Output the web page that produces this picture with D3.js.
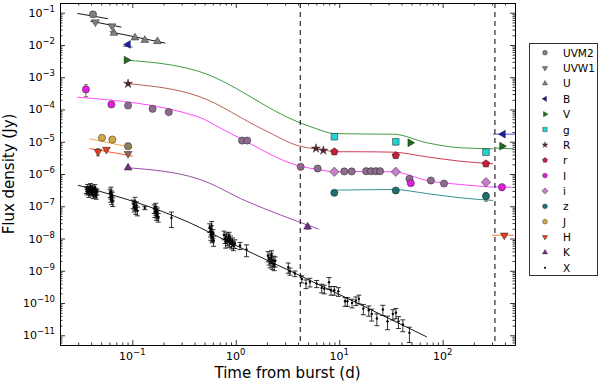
<!DOCTYPE html>
<html>
<head>
<meta charset="utf-8">
<script src="https://d3js.org/d3.v7.min.js"></script>
<style>
body { margin: 0; background: #fff; }
svg { font-family: "DejaVu Sans", sans-serif; }
</style>
</head>
<body>
<svg id="chart" width="600" height="382"></svg>
<script>
// time in days, flux in Jy, e = fractional error
var uvm2T = [0.0417], uvm2F = [0.0886], uvm2E = [0.08];
var uvw1T = [0.044, 0.0636], uvw1F = [0.0511, 0.0384], uvw1E = [0.1, 0.1];
var uT = [0.0665, 0.106, 0.132, 0.175], uF = [0.0233, 0.0168, 0.0141, 0.0129], uE = [0.1, 0.08, 0.08, 0.08];
var bT = [0.091, 383], bF = [0.0104, 1.72e-5], bE = [0.05, 0.1];
var vT = [0.0877, 48.5, 374], vF = [3.39e-3, 9.3e-6, 7.3e-6], vE = [0.08, 0.08, 0.1];
var gT = [8.97, 35.2, 262], gF = [1.43e-5, 9.97e-6, 4.74e-6], gE = [0.1, 0.2, 0.15];
var rbT = [0.091, 5.96, 7.02], rbF = [6.28e-4, 6.18e-6, 5.36e-6], rbE = [0.08, 0.08, 0.08];
var rT = [8.97, 35.2, 262], rF = [4.89e-6, 3.75e-6, 2.07e-6], rE = [0.06, 0.06, 0.08];
var ibT = [0.0356, 0.0628, 49.2, 374], ibF = [4.18e-4, 1.43e-4, 5.19e-7, 3.9e-7], ibE = [0.4, 0.1, 0.15, 0.2];
var iT = [8.97, 35.2, 262], iF = [1.17e-6, 1.17e-6, 5.57e-7], iE = [0.08, 0.08, 0.1];
var zT = [8.97, 35.2, 262], zF = [2.61e-7, 3.08e-7, 2.05e-7], zE = [0.1, 0.1, 0.3];
var jT = [0.0509, 0.0641], jF = [1.33e-5, 1.17e-5], jE = [0.1, 0.1];
var hT = [0.0466, 0.0561, 394], hF = [4.89e-6, 5.75e-6, 1.26e-8], hE = [0.25, 0.1, 0.1];
var kT = [0.091, 4.95], kF = [1.56e-6, 2.3e-8], kE = [0.1, 0.15];
// other-instrument optical points on the I curve, and nir points at 0.09 d
var ioT = [0.091, 0.157, 0.225, 1.15, 1.29, 4.24, 6.19, 11.2, 13.2, 18.2, 20.3, 22.6, 24.8, 47.7, 76.9, 103];
var ioF = [1.33e-4, 1.05e-4, 8.3e-5, 1.09e-5, 1.09e-5, 1.67e-6, 1.48e-6, 1.2e-6, 1.2e-6, 1.22e-6, 1.22e-6, 1.22e-6, 1.22e-6, 7.1e-7, 6.28e-7, 5.07e-7];
var joT = [0.091], joF = [7.28e-6];
var hoT = [0.091], hoF = [4.24e-6];

var xrayT = [
  0.0360,0.0365,0.0370,0.0375,0.0380,0.0385,0.0390,0.0395,0.0400,0.0405,0.0410,0.0415,0.0420,0.0425,0.0430,0.0435,0.0440,0.0445,0.0450,0.0455,
  0.0610,0.0618,0.0622,0.0625,0.0632,0.0640,0.0647,
  0.102,0.104,0.105,0.106,0.108,0.110,0.112,
  0.132,
  0.163,0.166,0.168,0.169,0.172,0.174,0.175,0.178,
  0.239,
  0.56,0.57,0.575,0.58,0.585,0.59,0.595,0.60,0.61,
  0.77,0.79,0.80,0.81,0.83,0.85,0.86,0.87,0.89,0.91,0.93,0.95,0.98,
  1.10,1.27,
  2.05,2.10,2.15,2.20,2.22,2.25,2.30,2.35,2.40,
  3.22,3.34,3.73,4.34,4.77,5.21,6.05,6.77,7.18,7.97,8.33,8.97,9.81,
  11.4,12.0,13.3,14.5,15.5,17.1,19.3,20.6,23.1,26.4,29.3,33.0,35.3,37.4,41.2,47.7];
var xrayF = [
  3.3e-7,2.8e-7,3.8e-7,3.1e-7,2.5e-7,3.5e-7,2.9e-7,4.2e-7,3.2e-7,2.6e-7,3.6e-7,2.9e-7,2.3e-7,3.3e-7,2.7e-7,3.9e-7,2.5e-7,3.0e-7,2.2e-7,2.8e-7,
  2.6e-7,1.9e-7,2.9e-7,2.3e-7,1.6e-7,2.1e-7,1.4e-7,
  1.2e-7,9.5e-8,1.1e-7,1.4e-7,8.0e-8,1.05e-7,7.2e-8,
  8.9e-8,
  8.5e-8,6.4e-8,9.5e-8,7.5e-8,5.2e-8,5.8e-8,6.8e-8,4.6e-8,
  4.4e-8,
  2.2e-8,1.6e-8,1.25e-8,1.9e-8,2.5e-8,1.05e-8,1.15e-8,1.45e-8,8.8e-9,
  1.3e-8,1.0e-8,7.2e-9,1.15e-8,8.5e-9,1.05e-8,1.2e-8,7.6e-9,9.2e-9,6.8e-9,8.0e-9,6.0e-9,7.0e-9,
  6.05e-9,4.55e-9,
  2.9e-9,2.3e-9,1.9e-9,2.6e-9,3.1e-9,1.7e-9,2.1e-9,1.55e-9,2.0e-9,
  1.29e-9,9.7e-10,8.2e-10,5.6e-10,4.0e-10,4.5e-10,4.0e-10,2.95e-10,2.75e-10,4.4e-10,2.5e-10,2.5e-10,2.3e-10,
  1.13e-10,1.13e-10,1.01e-10,1.19e-10,1.35e-10,6.7e-11,6.0e-11,4.6e-11,3.3e-11,6.3e-11,2.7e-11,4.6e-11,5.0e-11,2.7e-11,2.15e-11,1.19e-11];
var xrayE = [
  0.25,0.2,0.25,0.2,0.25,0.2,0.25,0.2,0.25,0.2,0.25,0.2,0.25,0.2,0.25,0.2,0.25,0.2,0.25,0.2,
  0.3,0.3,0.35,0.3,0.3,0.3,0.3,
  0.3,0.3,0.3,0.35,0.3,0.3,0.3,
  0.12,
  0.3,0.3,0.3,0.3,0.3,0.3,0.3,0.3,
  0.5,
  0.3,0.3,0.3,0.3,0.35,0.3,0.3,0.3,0.35,
  0.3,0.3,0.3,0.3,0.3,0.3,0.3,0.3,0.3,0.3,0.3,0.3,0.3,
  0.25,0.4,
  0.35,0.35,0.35,0.35,0.35,0.35,0.35,0.35,0.35,
  0.35,0.25,0.2,0.25,0.3,0.3,0.25,0.3,0.3,0.4,0.3,0.3,0.3,
  0.3,0.3,0.3,0.3,0.3,0.35,0.35,0.4,0.4,0.35,0.45,0.35,0.35,0.4,0.4,0.5];

// model / fit curves
var uvm2LineT = [0.0294, 0.0582], uvm2LineF = [0.0951, 0.0652];
var uvw1LineT = [0.0393, 0.0784], uvw1LineF = [0.0548, 0.0357];
var uLineT = [0.0604, 0.209], uLineF = [0.0258, 0.0114];
var bLineT = [0.0813, 0.101], bLineF = [9.2e-3, 8.6e-3];
var bLateT = [306, 500], bLateF = [1.72e-5, 1.72e-5];
var vLineT = [0.0877, 0.432, 4.17, 6.05, 8.77, 15.9, 33.4, 70.3, 148, 308];
var vLineF = [3.39e-3, 1.55e-3, 3.87e-5, 2.52e-5, 1.8e-5, 1.74e-5, 1.71e-5, 9.3e-6, 6.5e-6, 6.05e-6];
var vLateT = [325, 480], vLateF = [6.4e-6, 6.0e-6];
var rbLineT = [0.091, 0.449, 1.84, 4.17, 5.96, 8.97];
var rbLineF = [6.28e-4, 2.48e-4, 2.4e-5, 7.28e-6, 5.96e-6, 4.89e-6];
var rLineT = [8.97, 15.9, 33.4, 70.3, 148, 308];
var rLineF = [4.89e-6, 4.89e-6, 4.74e-6, 3.41e-6, 2.49e-6, 2.07e-6];
var ibLineT = [0.0294, 0.432, 0.702, 1.18, 4.17, 6.24, 8.97, 15.9, 33.4, 70.3, 148, 308];
var ibLineF = [2.41e-4, 5.94e-5, 2.71e-5, 1.13e-5, 1.75e-6, 1.38e-6, 1.17e-6, 1.2e-6, 1.17e-6, 6.28e-7, 4.72e-7, 3.9e-7];
var ibLateT = [308, 465], ibLateF = [4.0e-7, 3.9e-7];
var zLineT = [8.97, 33.4, 70.3, 148, 308], zLineF = [3.15e-7, 3.3e-7, 2.48e-7, 1.83e-7, 1.51e-7];
var jLineT = [0.0387, 0.1016], jLineF = [1.24e-5, 6.5e-6];
var hLineT = [0.0387, 0.1016], hLineF = [6.18e-6, 3.56e-6];
var hLateT = [300, 490], hLateF = [1.26e-8, 1.26e-8];
var kLineT = [0.091, 0.432, 1.27, 5.83, 6.3], kLineF = [1.56e-6, 7.1e-7, 1.43e-7, 2.14e-8, 1.95e-8];
var xLineT = [0.0298, 0.36, 0.877, 4.17, 70.3], xLineF = [4.5e-7, 3.06e-8, 7.5e-9, 7.1e-10, 8.9e-12];

var vlines = [4.2, 320];
var xTicks = [0.1, 1, 10, 100], xTickExp = ["-1", "0", "1", "2"];
var yTicks = [1e-11,1e-10,1e-9,1e-8,1e-7,1e-6,1e-5,1e-4,1e-3,1e-2,1e-1];
var yTickExp = ["-11","-10","-9","-8","-7","-6","-5","-4","-3","-2","-1"];

var svg = d3.select("#chart");
var L = 60, R = 515, T = 3, B = 345;
var x = d3.scaleLog().domain([0.02, 500]).range([L, R]);
var y = d3.scaleLog().domain([5e-12, 0.2]).range([B, T]);

svg.append("defs").append("clipPath").attr("id", "clip")
  .append("rect").attr("x", L).attr("y", T).attr("width", R - L).attr("height", B - T);

function zip(ts, fs, es) { return ts.map(function(t, i) { return {t: t, f: fs[i], e: es ? es[i] : 0}; }); }

function markerPath(shape, r) {
  function poly(n, rot, rr) {
    var a = [];
    for (var k = 0; k < n; k++) { var ang = rot + 2 * Math.PI * k / n; a.push([rr * Math.sin(ang), -rr * Math.cos(ang)]); }
    return "M" + a.join("L") + "Z";
  }
  if (shape == "circle") return d3.symbol(d3.symbolCircle, Math.PI * r * r)();
  if (shape == "tu") return poly(3, 0, r * 1.25);
  if (shape == "td") return poly(3, Math.PI, r * 1.25);
  if (shape == "tl") return poly(3, -Math.PI / 2, r * 1.25);
  if (shape == "tr") return poly(3, Math.PI / 2, r * 1.25);
  if (shape == "square") return poly(4, Math.PI / 4, r * 1.3);
  if (shape == "diamond") return poly(4, 0, r * 1.3);
  if (shape == "pent") return poly(5, 0, r * 1.1);
  if (shape == "star") {
    var a = [];
    for (var k = 0; k < 10; k++) { var rr = k % 2 ? r * 0.45 : r * 1.3, ang = Math.PI * k / 5; a.push([rr * Math.sin(ang), -rr * Math.cos(ang)]); }
    return "M" + a.join("L") + "Z";
  }
  return d3.symbol(d3.symbolCircle, Math.PI * r * r)();
}

var series = [
  {name: "UVM2", shape: "circle", fill: "#808080", pts: zip(uvm2T, uvm2F, uvm2E)},
  {name: "UVW1", shape: "td", fill: "#808080", pts: zip(uvw1T, uvw1F, uvw1E)},
  {name: "U", shape: "tu", fill: "#808080", pts: zip(uT, uF, uE)},
  {name: "B", shape: "tl", fill: "#1c1ca8", pts: zip(bT, bF, bE)},
  {name: "V", shape: "tr", fill: "#1b6e1b", pts: zip(vT, vF, vE)},
  {name: "g", shape: "square", fill: "#22d3d3", pts: zip(gT, gF, gE)},
  {name: "R", shape: "star", fill: "#5c1f33", pts: zip(rbT, rbF, rbE)},
  {name: "r", shape: "pent", fill: "#c41e3a", pts: zip(rT, rF, rE)},
  {name: "I", shape: "circle", fill: "#e020e0", pts: zip(ibT, ibF, ibE)},
  {name: "i", shape: "diamond", fill: "#c87dc8", pts: zip(iT, iF, iE)},
  {name: "z", shape: "circle", fill: "#1c7070", pts: zip(zT, zF, zE)},
  {name: "J", shape: "circle", fill: "#d4a74a", pts: zip(jT, jF, jE)},
  {name: "H", shape: "td", fill: "#e0401c", pts: zip(hT, hF, hE)},
  {name: "K", shape: "tu", fill: "#7b2a8c", pts: zip(kT, kF, kE)},
  {name: "X", shape: "dot", fill: "#000", pts: zip(xrayT, xrayF, xrayE)}
];
var extras = [
  {shape: "circle", fill: "#8d6c8d", pts: zip(ioT, ioF, ioT.map(function() { return 0.08; }))},
  {shape: "circle", fill: "#8e8060", pts: zip(joT, joF)},
  {shape: "td", fill: "#8e6658", pts: zip(hoT, hoF)}
];

var models = [
  {t: uvm2LineT, f: uvm2LineF, c: "#000"}, {t: uvw1LineT, f: uvw1LineF, c: "#000"}, {t: uLineT, f: uLineF, c: "#000"},
  {t: bLineT, f: bLineF, c: "#3a3ad0"}, {t: bLateT, f: bLateF, c: "#3a3ad0"},
  {t: vLineT, f: vLineF, c: "#2e8b2e"}, {t: vLateT, f: vLateF, c: "#2e8b2e"},
  {t: rbLineT, f: rbLineF, c: "#b0503e"}, {t: rLineT, f: rLineF, c: "#cc2244"},
  {t: ibLineT, f: ibLineF, c: "#ff33ff"}, {t: ibLateT, f: ibLateF, c: "#ff33ff"},
  {t: zLineT, f: zLineF, c: "#1f8585"},
  {t: jLineT, f: jLineF, c: "#f0a030"}, {t: hLineT, f: hLineF, c: "#ff4a1a"}, {t: hLateT, f: hLateF, c: "#ff6a2a"},
  {t: kLineT, f: kLineF, c: "#8e3a9e"}, {t: xLineT, f: xLineF, c: "#000"}
];

var plot = svg.append("g").attr("clip-path", "url(#clip)");
var line = d3.line().x(function(d) { return x(d[0]); }).y(function(d) { return y(d[1]); }).curve(d3.curveMonotoneX);
models.forEach(function(m) {
  plot.append("path").datum(m.t.map(function(t, i) { return [t, m.f[i]]; }))
    .attr("d", line).attr("fill", "none").attr("stroke", m.c).attr("stroke-width", 0.9);
});

plot.selectAll(".vl").data(vlines).enter().append("line")
  .attr("x1", function(d) { return x(d); }).attr("x2", function(d) { return x(d); })
  .attr("y1", T).attr("y2", B).attr("stroke", "#000").attr("stroke-width", 1).attr("stroke-dasharray", "5,4");

function drawPts(s) {
  var col = s.shape == "dot" ? "#000" : "#555";
  var g = plot.append("g");
  s.pts.filter(function(d) { return d.e > 0; }).forEach(function(d) {
    var y1 = y(d.f * (1 + d.e)), y2 = y(d.f * (1 - d.e)), cx = x(d.t), cw = s.shape == "dot" ? 2.5 : 2;
    g.append("line").attr("x1", cx).attr("x2", cx).attr("y1", y1).attr("y2", y2).attr("stroke", col).attr("stroke-width", 0.8);
    g.append("line").attr("x1", cx - cw).attr("x2", cx + cw).attr("y1", y1).attr("y2", y1).attr("stroke", col).attr("stroke-width", 0.8);
    g.append("line").attr("x1", cx - cw).attr("x2", cx + cw).attr("y1", y2).attr("y2", y2).attr("stroke", col).attr("stroke-width", 0.8);
  });
  g.selectAll("path").data(s.pts).enter().append("path")
    .attr("transform", function(d) { return "translate(" + x(d.t) + "," + y(d.f) + ")"; })
    .attr("d", s.shape == "dot" ? markerPath("circle", 1.2) : markerPath(s.shape, 3.6))
    .attr("fill", s.fill).attr("stroke", s.shape == "dot" ? "none" : "#222").attr("stroke-width", 0.5);
}
extras.forEach(drawPts);
series.forEach(drawPts);

// axes: inward ticks on all sides
function minors(lo, hi) {
  var out = [];
  for (var p = Math.floor(Math.log10(lo)); p <= Math.ceil(Math.log10(hi)); p++)
    for (var k = 2; k <= 9; k++) { var v = k * Math.pow(10, p); if (v >= lo && v <= hi) out.push(v); }
  return out;
}
var xMin = minors(0.02, 500), yMin = minors(5e-12, 0.2);
function axis(fn, sc, vals, size, tr) {
  var g = svg.append("g").attr("transform", tr)
    .call(fn(sc).tickValues(vals).tickSize(size).tickSizeOuter(0).tickFormat(""));
  g.select(".domain").attr("stroke", "#000").attr("stroke-width", 1);
  g.selectAll(".tick line").attr("stroke", "#000").attr("stroke-width", 0.8);
}
axis(d3.axisBottom, x, xTicks, -5, "translate(0," + B + ")");
axis(d3.axisBottom, x, xMin, -2.5, "translate(0," + B + ")");
axis(d3.axisTop, x, xTicks, -5, "translate(0," + T + ")");
axis(d3.axisTop, x, xMin, -2.5, "translate(0," + T + ")");
axis(d3.axisLeft, y, yTicks, -5, "translate(" + L + ",0)");
axis(d3.axisLeft, y, yMin, -2.5, "translate(" + L + ",0)");
axis(d3.axisRight, y, yTicks, -5, "translate(" + R + ",0)");
axis(d3.axisRight, y, yMin, -2.5, "translate(" + R + ",0)");

xTicks.forEach(function(v, i) {
  var t = svg.append("text").attr("x", x(v)).attr("y", 360).attr("text-anchor", "middle")
    .attr("font-size", 11).attr("fill", "#000");
  t.append("tspan").text("10");
  t.append("tspan").attr("dy", -5).attr("font-size", 8.5).text(xTickExp[i].replace("-", "\u2212"));
});
yTicks.forEach(function(v, i) {
  var t = svg.append("text").attr("x", 55).attr("y", y(v) + 4).attr("text-anchor", "end")
    .attr("font-size", 11).attr("fill", "#000");
  t.append("tspan").text("10");
  t.append("tspan").attr("dy", -5).attr("font-size", 8.5).text(yTickExp[i].replace("-", "\u2212"));
});

svg.append("text").attr("x", (L + R) / 2).attr("y", 378).attr("text-anchor", "middle")
  .attr("font-size", 15).text("Time from burst (d)");
svg.append("text").attr("transform", "translate(14," + ((T + B) / 2) + ") rotate(-90)")
  .attr("text-anchor", "middle").attr("font-size", 15).text("Flux density (Jy)");

// legend
var lg = svg.append("g");
lg.append("rect").attr("x", 529.5).attr("y", 43.5).attr("width", 68).attr("height", 232)
  .attr("fill", "#fff").attr("stroke", "#333").attr("stroke-width", 1);
series.forEach(function(s, i) {
  var yy = 52.7 + i * 15.36;
  lg.append("path").attr("transform", "translate(545," + yy + ")")
    .attr("d", s.shape == "dot" ? markerPath("circle", 1.1) : markerPath(s.shape, 2.4))
    .attr("fill", s.fill).attr("stroke", s.shape == "dot" ? "none" : "#222").attr("stroke-width", 0.4);
  lg.append("text").attr("x", 563).attr("y", yy + 4).attr("font-size", 10.5).text(s.name);
});
</script>
</body>
</html>
